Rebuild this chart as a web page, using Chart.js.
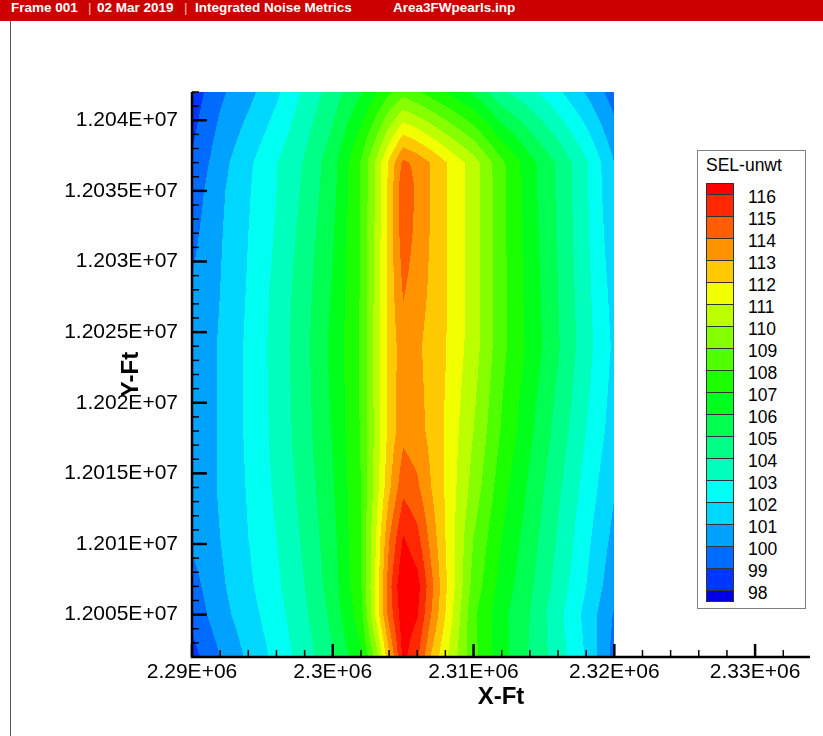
<!DOCTYPE html>
<html><head><meta charset="utf-8"><title>SEL-unwt contour</title>
<script src="https://cdn.jsdelivr.net/npm/chart.js@4.4.1/dist/chart.umd.min.js"></script>
<style>
html,body{margin:0;padding:0;background:#fff;overflow:hidden}
#wrap{position:relative;width:823px;height:736px;background:#fff;font-family:"Liberation Sans",Arial,sans-serif}
#c{position:absolute;left:0;top:0}
#hdr{position:absolute;left:0;top:0;width:823px;height:21px;background:#cc0000}
#hdr span{position:absolute;top:0;line-height:21px;color:#fff;font:bold 13.5px "Liberation Sans",Arial,sans-serif;white-space:nowrap}
#hdr span.sep{font-weight:normal;color:#f2b8b8}
#edge{position:absolute;left:10px;top:21px;width:1px;height:715px;background:#555}
#legend{position:absolute;left:697px;top:150px;width:107px;height:457px;border:1px solid #808080;background:#fff}
.lt{position:absolute;font:17.5px "Liberation Sans",Arial,sans-serif;color:#000;white-space:nowrap;line-height:20px}
.box{position:absolute;box-sizing:border-box;border:1px solid #333}
</style></head>
<body><div id="wrap">
<canvas id="c" width="823" height="736"></canvas>
<div id="hdr">
<span style="left:11px">Frame 001</span><span class="sep" style="left:88px">|</span>
<span style="left:97px">02 Mar 2019</span><span class="sep" style="left:184px">|</span>
<span style="left:195px">Integrated Noise Metrics</span>
<span style="left:393px">Area3FWpearls.inp</span>
</div>
<div id="edge"></div>
<div id="legend"></div>
</div>
<script>
// ---- grid coordinates (ft) ----
const xNodes = [2290000, 2292000, 2294000, 2296000, 2298000, 2300000, 2302000, 2303000, 2304000, 2305000,
                2306000, 2307000, 2308000, 2310000, 2312000, 2314000, 2316000, 2318000, 2320000];
const yNodes = [12002000, 12005000, 12007000, 12010500, 12014000, 12018000, 12024000, 12028000, 12032000,
                12035000, 12037000, 12042000];

// ---- SEL-unwt values, one array per grid row (y) ----
const sel_12002000 = [98.6, 100.0, 101.2, 102.3, 103.5, 104.9, 106.8, 109.2, 112.8, 116.3, 115.2, 112.9, 111.2, 108.3, 106.4, 104.9, 103.5, 101.9, 99.6];
const sel_12005000 = [99.3, 100.6, 101.6, 102.6, 103.8, 105.3, 107.6, 111.0, 114.4, 116.7, 116.1, 114.0, 112.0, 108.2, 106.3, 105.0, 103.3, 101.7, 99.9];
const sel_12007000 = [99.6, 100.8, 101.8, 102.8, 104.0, 105.5, 107.9, 111.0, 114.6, 117.0, 116.4, 114.3, 112.2, 108.6, 106.6, 105.2, 103.6, 102.0, 100.3];
const sel_12010500 = [100.2, 101.0, 102.0, 103.0, 104.2, 105.7, 108.0, 110.8, 113.9, 116.05, 115.3, 113.6, 112.0, 109.0, 107.0, 105.5, 103.9, 102.3, 100.7];
const sel_12014000 = [100.3, 101.1, 102.1, 103.2, 104.4, 105.9, 108.0, 110.3, 112.8, 114.7, 114.2, 113.0, 111.9, 109.6, 107.4, 105.8, 104.2, 102.6, 101.1];
const sel_12018000 = [100.3, 101.1, 102.2, 103.3, 104.6, 106.1, 108.1, 110.2, 112.3, 113.7, 113.4, 112.7, 111.9, 110.0, 107.9, 106.2, 104.6, 103.0, 101.5];
const sel_12024000 = [100.3, 101.1, 102.2, 103.4, 104.7, 106.3, 108.1, 110.3, 112.3, 113.6, 113.2, 112.6, 112.05, 110.5, 108.3, 106.7, 105.1, 103.4, 101.8];
const sel_12028000 = [100.1, 101.0, 102.1, 103.3, 104.6, 106.1, 108.1, 110.2, 112.4, 114.1, 113.5, 112.8, 112.1, 110.5, 108.3, 106.6, 105.0, 103.3, 101.6];
const sel_12032000 = [99.7, 100.9, 102.0, 103.1, 104.4, 105.9, 108.1, 110.1, 112.4, 114.6, 113.7, 112.9, 112.1, 110.5, 108.3, 106.5, 104.9, 103.2, 101.3];
const sel_12035000 = [99.4, 100.8, 101.9, 103.0, 104.2, 105.7, 108.1, 110.0, 112.3, 114.8, 113.8, 112.95, 112.1, 110.5, 108.3, 106.4, 104.85, 103.15, 101.1];
const sel_12037000 = [99.1, 100.6, 101.8, 102.95, 104.1, 105.6, 108.1, 110.0, 112.2, 114.25, 113.7, 112.95, 112.1, 110.5, 108.25, 106.35, 104.85, 103.15, 101.0];
const sel_12042000 = [98.4, 99.8, 100.7, 101.8, 103.2, 104.5, 105.9, 106.8, 107.8, 108.6, 108.1, 107.55, 107.0, 105.8, 104.2, 103.3, 102.2, 100.9, 99.5];
const selRows = [sel_12002000, sel_12005000, sel_12007000, sel_12010500, sel_12014000, sel_12018000,
                 sel_12024000, sel_12028000, sel_12032000, sel_12035000, sel_12037000, sel_12042000];

// ---- contour levels and flood colours ----
const levels = [98, 99, 100, 101, 102, 103, 104, 105, 106, 107, 108, 109, 110, 111, 112, 113, 114, 115, 116];
const levelColors = ['#0000e6', '#0036ff', '#006bff', '#00a1ff', '#00d7ff', '#00fff2', '#00ffbc', '#00ff86',
                     '#00ff50', '#00ff1b', '#1bff00', '#50ff00', '#86ff00', '#bcff00', '#f2ff00', '#ffc900',
                     '#ff9400', '#ff5e00', '#ff2800', '#ff0000'];

// ---- axis ticks ----
const xMajorTicks = [2290000, 2300000, 2310000, 2320000, 2330000];
const xTickLabels = ['2.29E+06', '2.3E+06', '2.31E+06', '2.32E+06', '2.33E+06'];
const yMajorTicks = [12005000, 12010000, 12015000, 12020000, 12025000, 12030000, 12035000, 12040000];
const yTickLabels = ['1.2005E+07', '1.201E+07', '1.2015E+07', '1.202E+07', '1.2025E+07', '1.203E+07', '1.2035E+07', '1.204E+07'];
const xMin = 2290000, xMax = 2333900, yMin = 12002000, yMax = 12042000;
const xMinorStep = 2000, yMinorStep = 1000;

const xAllTicks = [], yAllTicks = [];
for (let v = xMin; v <= xMax; v += xMinorStep) xAllTicks.push(v);
for (let v = yMin; v <= yMax; v += yMinorStep) yAllTicks.push(v);

// ---- legend (HTML) ----
(function buildLegend() {
  const lg = document.getElementById('legend');
  const L0 = 698, T0 = 151;
  const title = document.createElement('div');
  title.className = 'lt'; title.textContent = 'SEL-unwt';
  title.style.left = (706 - L0) + 'px'; title.style.top = (155 - T0) + 'px';
  lg.appendChild(title);
  const lineY = (lv) => 194 + (116 - lv) * 22;
  const addBox = (top, h, col) => {
    const b = document.createElement('div'); b.className = 'box';
    b.style.left = (706 - L0) + 'px'; b.style.top = (top - T0) + 'px';
    b.style.width = '28px'; b.style.height = (h + 1) + 'px'; b.style.background = col;
    lg.appendChild(b);
  };
  addBox(lineY(116) - 11, 11, levelColors[levels.length]);
  for (let k = levels.length - 1; k >= 1; k--) addBox(lineY(levels[k]), 22, levelColors[k]);
  addBox(lineY(98), 11, levelColors[0]);
  levels.forEach(lv => {
    const t = document.createElement('div'); t.className = 'lt'; t.textContent = String(lv);
    t.style.left = (748 - L0) + 'px'; t.style.top = (lineY(lv) + 3 - 10 - T0) + 'px';
    lg.appendChild(t);
  });
})();

// ---- dataset: grid nodes ----
const nodePoints = [];
yNodes.forEach((yv, j) => xNodes.forEach((xv, i) => nodePoints.push({x: xv, y: yv, v: selRows[j][i]})));

function hexToRgb(h) { return [parseInt(h.slice(1,3),16), parseInt(h.slice(3,5),16), parseInt(h.slice(5,7),16)]; }
const rgbColors = levelColors.map(hexToRgb);
function findCell(arr, v) {
  let k = 0;
  while (k < arr.length - 2 && v > arr[k + 1]) k++;
  return k;
}

const contourPlugin = {
  id: 'contourFlood',
  beforeDraw(chart) {
    const {ctx} = chart; const xs = chart.scales.x, ys = chart.scales.y;
    const data = chart.data.datasets[0].data;
    const nx = xNodes.length, ny = yNodes.length;
    const val = (i, j) => data[j * nx + i].v;
    const px0 = Math.round(xs.getPixelForValue(xNodes[0])), px1 = Math.round(xs.getPixelForValue(xNodes[nx - 1]));
    const py0 = Math.round(ys.getPixelForValue(yNodes[ny - 1])), py1 = Math.round(ys.getPixelForValue(yNodes[0]));
    const w = px1 - px0, h = py1 - py0;
    const off = document.createElement('canvas'); off.width = w; off.height = h;
    const octx = off.getContext('2d'); const img = octx.createImageData(w, h); const d = img.data;
    for (let r = 0; r < h; r++) {
      const yv = ys.getValueForPixel(py0 + r + 0.5);
      const j = findCell(yNodes, yv);
      const ty = Math.min(1, Math.max(0, (yv - yNodes[j]) / (yNodes[j + 1] - yNodes[j])));
      for (let c = 0; c < w; c++) {
        const xv = xs.getValueForPixel(px0 + c + 0.5);
        const i = findCell(xNodes, xv);
        const tx = Math.min(1, Math.max(0, (xv - xNodes[i]) / (xNodes[i + 1] - xNodes[i])));
        const v = (1 - tx) * (1 - ty) * val(i, j) + tx * (1 - ty) * val(i + 1, j) +
                  (1 - tx) * ty * val(i, j + 1) + tx * ty * val(i + 1, j + 1);
        let k = 0; while (k < levels.length && v >= levels[k]) k++;
        const col = rgbColors[k]; const p = (r * w + c) * 4;
        d[p] = col[0]; d[p + 1] = col[1]; d[p + 2] = col[2]; d[p + 3] = 255;
      }
    }
    octx.putImageData(img, 0, 0);
    ctx.drawImage(off, px0, py0);
  }
};

const axisPlugin = {
  id: 'inwardTicks',
  afterDraw(chart) {
    const {ctx} = chart; const xs = chart.scales.x, ys = chart.scales.y;
    const yb = ys.getPixelForValue(yMin), xl = xs.getPixelForValue(xMin);
    ctx.save(); ctx.strokeStyle = '#000'; ctx.lineCap = 'butt';
    xAllTicks.forEach(v => {
      const major = xMajorTicks.includes(v); const p = xs.getPixelForValue(v);
      ctx.lineWidth = major ? 2.5 : 1.5; ctx.beginPath();
      ctx.moveTo(p, yb); ctx.lineTo(p, yb - (major ? 13 : 7)); ctx.stroke();
    });
    yAllTicks.forEach(v => {
      const major = yMajorTicks.includes(v); const p = ys.getPixelForValue(v);
      ctx.lineWidth = major ? 2.5 : 1.5; ctx.beginPath();
      ctx.moveTo(xl, p); ctx.lineTo(xl + (major ? 15 : 7), p); ctx.stroke();
    });
    ctx.lineWidth = 2.5; ctx.beginPath();
    ctx.moveTo(xl, ys.getPixelForValue(yMax)); ctx.lineTo(xl, yb + 1);
    ctx.moveTo(xl - 1, yb); ctx.lineTo(xs.getPixelForValue(xMax), yb); ctx.stroke();
    ctx.restore();
  }
};

const tickFont = {family: '"Liberation Sans", Arial, sans-serif', size: 21};
const titleFont = {family: '"Liberation Sans", Arial, sans-serif', size: 24, weight: 'bold'};
new Chart(document.getElementById('c'), {
  type: 'scatter',
  data: {datasets: [{label: 'SEL-unwt', data: nodePoints, pointRadius: 0, pointHoverRadius: 0, showLine: false}]},
  options: {
    responsive: false, animation: false, devicePixelRatio: 1, events: [],
    layout: {padding: {top: 92, right: 13, left: 0, bottom: 0}},
    plugins: {legend: {display: false}, tooltip: {enabled: false}, title: {display: false}},
    scales: {
      x: {
        type: 'linear', position: 'bottom', min: xMin, max: xMax,
        afterBuildTicks: s => { s.ticks = xAllTicks.map(v => ({value: v})); },
        afterFit: s => { s.height = 79; },
        grid: {display: false, drawTicks: false},
        border: {display: false},
        ticks: {autoSkip: false, maxRotation: 0, minRotation: 0, padding: 3, color: '#000', font: tickFont,
                callback: v => { const k = xMajorTicks.indexOf(v); return k >= 0 ? xTickLabels[k] : ''; }},
        title: {display: true, text: 'X-Ft', color: '#000', font: titleFont, padding: {top: 0, bottom: 24}}
      },
      y: {
        type: 'linear', position: 'left', min: yMin, max: yMax,
        afterBuildTicks: s => { s.ticks = yAllTicks.map(v => ({value: v})); },
        afterFit: s => { s.width = 192; },
        grid: {display: false, drawTicks: false},
        border: {display: false},
        ticks: {autoSkip: false, padding: 14, color: '#000', font: tickFont,
                callback: v => { const k = yMajorTicks.indexOf(v); return k >= 0 ? yTickLabels[k] : ''; }},
        title: {display: true, text: 'Y-Ft', color: '#000', font: titleFont, padding: {top: 117, bottom: 0}}
      }
    }
  },
  plugins: [contourPlugin, axisPlugin]
});
</script>
</body></html>
